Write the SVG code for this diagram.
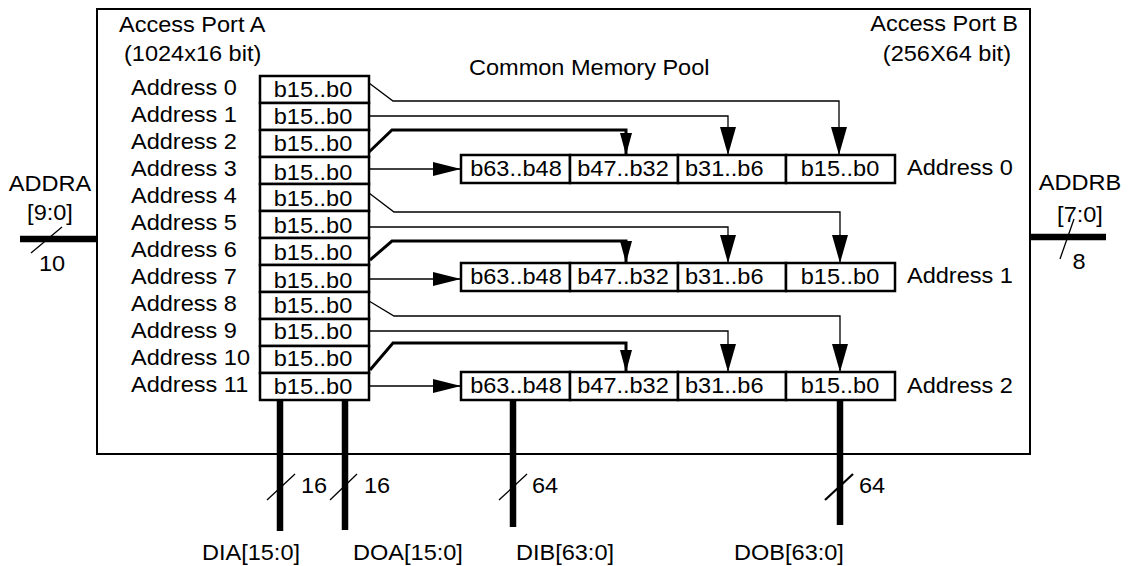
<svg xmlns="http://www.w3.org/2000/svg" width="1132" height="566" viewBox="0 0 1132 566">
  <style>
    .t { font-family: "Liberation Sans", Arial, sans-serif; font-size: 22px; fill: #000; transform-box: fill-box; transform: scaleX(1.07); }
    .s { text-anchor: start; transform-origin: left center; }
    .m { text-anchor: middle; transform-origin: center; }
    .e { text-anchor: end; transform-origin: right center; }
    .box { fill: #fff; stroke: #000; stroke-width: 2.5; }
    .frame { fill: #fff; stroke: #000; stroke-width: 2; }
    .thin { fill: none; stroke: #000; stroke-width: 1.3; }
    .thick { fill: none; stroke: #000; stroke-width: 3; }
    .bus { fill: none; stroke: #000; stroke-width: 6.5; }
    .slash { fill: none; stroke: #000; stroke-width: 1.3; }
  </style>
  <defs>
    <marker id="av" markerUnits="userSpaceOnUse" markerWidth="28" markerHeight="16" viewBox="0 0 28 16" refX="28" refY="8" orient="auto">
      <path d="M0,0 L28,8 L0,16 z" fill="#000"/>
    </marker>
    <marker id="ah" markerUnits="userSpaceOnUse" markerWidth="28" markerHeight="14" viewBox="0 0 28 14" refX="28" refY="7" orient="auto">
      <path d="M0,0 L28,7 L0,14 z" fill="#000"/>
    </marker>
    <marker id="as" markerUnits="userSpaceOnUse" markerWidth="22" markerHeight="12" viewBox="0 0 22 12" refX="22" refY="6" orient="auto">
      <path d="M0,0 L22,6 L0,12 z" fill="#000"/>
    </marker>
  </defs>

  <g id="frame">
    <rect class="frame" x="97" y="9" width="933" height="445"/>
    <text class="t s" x="119" y="32">Access Port A</text>
    <text class="t s" x="124" y="61">(1024x16 bit)</text>
    <text class="t e" x="1018" y="31">Access Port B</text>
    <text class="t e" x="1011" y="61">(256X64 bit)</text>
    <text class="t s" x="469" y="75">Common Memory Pool</text>
  </g>

  <g id="port-a">
    <g id="a0"><rect class="box" x="260" y="76" width="109" height="27"/><text class="t m" x="313" y="97">b15..b0</text><text class="t s" x="131" y="95">Address 0</text></g>
    <g id="a1"><rect class="box" x="260" y="103" width="109" height="27"/><text class="t m" x="313" y="124">b15..b0</text><text class="t s" x="131" y="122">Address 1</text></g>
    <g id="a2"><rect class="box" x="260" y="130" width="109" height="27"/><text class="t m" x="313" y="151">b15..b0</text><text class="t s" x="131" y="149">Address 2</text></g>
    <g id="a3"><rect class="box" x="260" y="157" width="109" height="27"/><text class="t m" x="313" y="180">b15..b0</text><text class="t s" x="131" y="176">Address 3</text></g>
    <g id="a4"><rect class="box" x="260" y="184" width="109" height="27"/><text class="t m" x="313" y="206">b15..b0</text><text class="t s" x="131" y="203">Address 4</text></g>
    <g id="a5"><rect class="box" x="260" y="211" width="109" height="27"/><text class="t m" x="313" y="233">b15..b0</text><text class="t s" x="131" y="230">Address 5</text></g>
    <g id="a6"><rect class="box" x="260" y="238" width="109" height="27"/><text class="t m" x="313" y="260">b15..b0</text><text class="t s" x="131" y="257">Address 6</text></g>
    <g id="a7"><rect class="box" x="260" y="265" width="109" height="27"/><text class="t m" x="313" y="288">b15..b0</text><text class="t s" x="131" y="284">Address 7</text></g>
    <g id="a8"><rect class="box" x="260" y="292" width="109" height="27"/><text class="t m" x="313" y="313">b15..b0</text><text class="t s" x="131" y="311">Address 8</text></g>
    <g id="a9"><rect class="box" x="260" y="319" width="109" height="27"/><text class="t m" x="313" y="339">b15..b0</text><text class="t s" x="131" y="338">Address 9</text></g>
    <g id="a10"><rect class="box" x="260" y="346" width="109" height="27"/><text class="t m" x="313" y="366">b15..b0</text><text class="t s" x="131" y="365">Address 10</text></g>
    <g id="a11"><rect class="box" x="260" y="373" width="109" height="27"/><text class="t m" x="313" y="394">b15..b0</text><text class="t s" x="131" y="392">Address 11</text></g>
  </g>

  <g id="b0">
    <rect class="box" x="461" y="155" width="109" height="28"/>
    <rect class="box" x="570" y="155" width="108" height="28"/>
    <rect class="box" x="678" y="155" width="108" height="28"/>
    <rect class="box" x="786" y="155" width="109" height="28"/>
    <text class="t m" x="516" y="176">b63..b48</text>
    <text class="t m" x="623" y="176">b47..b32</text>
    <text class="t s" x="685" y="176">b31..b6</text>
    <text class="t m" x="840" y="176">b15..b0</text>
    <text class="t s" x="907" y="175">Address 0</text>
  </g>
  <g id="b1">
    <rect class="box" x="461" y="263" width="109" height="28"/>
    <rect class="box" x="570" y="263" width="108" height="28"/>
    <rect class="box" x="678" y="263" width="108" height="28"/>
    <rect class="box" x="786" y="263" width="109" height="28"/>
    <text class="t m" x="516" y="284">b63..b48</text>
    <text class="t m" x="623" y="284">b47..b32</text>
    <text class="t s" x="685" y="284">b31..b6</text>
    <text class="t m" x="840" y="284">b15..b0</text>
    <text class="t s" x="907" y="283">Address 1</text>
  </g>
  <g id="b2">
    <rect class="box" x="461" y="372" width="109" height="28"/>
    <rect class="box" x="570" y="372" width="108" height="28"/>
    <rect class="box" x="678" y="372" width="108" height="28"/>
    <rect class="box" x="786" y="372" width="109" height="28"/>
    <text class="t m" x="516" y="393">b63..b48</text>
    <text class="t m" x="623" y="393">b47..b32</text>
    <text class="t s" x="685" y="393">b31..b6</text>
    <text class="t m" x="840" y="393">b15..b0</text>
    <text class="t s" x="907" y="393">Address 2</text>
  </g>

  <g id="connectors">
    <path class="thin" d="M369,83 L393,101 H839 V155" marker-end="url(#av)"/>
    <path class="thin" d="M369,116 H728 V155" marker-end="url(#av)"/>
    <path class="thick" d="M369,152 L392,130 H626 V155" marker-end="url(#as)"/>
    <path class="thin" d="M369,169 H461" marker-end="url(#ah)"/>

    <path class="thin" d="M369,193 L394,212 H840 V263" marker-end="url(#av)"/>
    <path class="thin" d="M369,227 H728 V263" marker-end="url(#av)"/>
    <path class="thick" d="M370,260 L392,241 H626 V263" marker-end="url(#as)"/>
    <path class="thin" d="M369,279 H461" marker-end="url(#ah)"/>

    <path class="thin" d="M369,301 L394,316 H840 V372" marker-end="url(#av)"/>
    <path class="thin" d="M369,331 H728 V372" marker-end="url(#av)"/>
    <path class="thick" d="M370,370 L393,343 H626 V372" marker-end="url(#as)"/>
    <path class="thin" d="M369,386 H461" marker-end="url(#ah)"/>
  </g>

  <g id="addra">
    <line class="bus" x1="20" y1="239" x2="97" y2="239"/>
    <line class="slash" x1="31" y1="253" x2="62" y2="227"/>
    <text class="t m" x="50" y="191">ADDRA</text>
    <text class="t m" x="50" y="220">[9:0]</text>
    <text class="t m" x="52" y="271">10</text>
  </g>
  <g id="addrb">
    <line class="bus" x1="1030" y1="237" x2="1106" y2="237"/>
    <line class="slash" x1="1060" y1="259" x2="1074" y2="219"/>
    <text class="t m" x="1080" y="190">ADDRB</text>
    <text class="t m" x="1080" y="222">[7:0]</text>
    <text class="t m" x="1079" y="269">8</text>
  </g>
  <g id="dia">
    <line class="bus" x1="280" y1="400" x2="280" y2="531"/>
    <line class="slash" x1="267" y1="500" x2="295" y2="474"/>
    <text class="t m" x="314" y="493">16</text>
    <text class="t m" x="251" y="560">DIA[15:0]</text>
  </g>
  <g id="doa">
    <line class="bus" x1="345" y1="400" x2="345" y2="530"/>
    <line class="slash" x1="330" y1="500" x2="357" y2="474"/>
    <text class="t m" x="377" y="493">16</text>
    <text class="t m" x="408" y="560">DOA[15:0]</text>
  </g>
  <g id="dib">
    <line class="bus" x1="513" y1="400" x2="513" y2="527"/>
    <line class="slash" x1="499" y1="500" x2="527" y2="474"/>
    <text class="t m" x="545" y="493">64</text>
    <text class="t m" x="565" y="560">DIB[63:0]</text>
  </g>
  <g id="dob">
    <line class="bus" x1="840" y1="400" x2="840" y2="525"/>
    <line class="slash" x1="825" y1="500" x2="853" y2="474" style="stroke-width:2.2"/>
    <text class="t m" x="872" y="493">64</text>
    <text class="t m" x="789" y="560">DOB[63:0]</text>
  </g>
</svg>
